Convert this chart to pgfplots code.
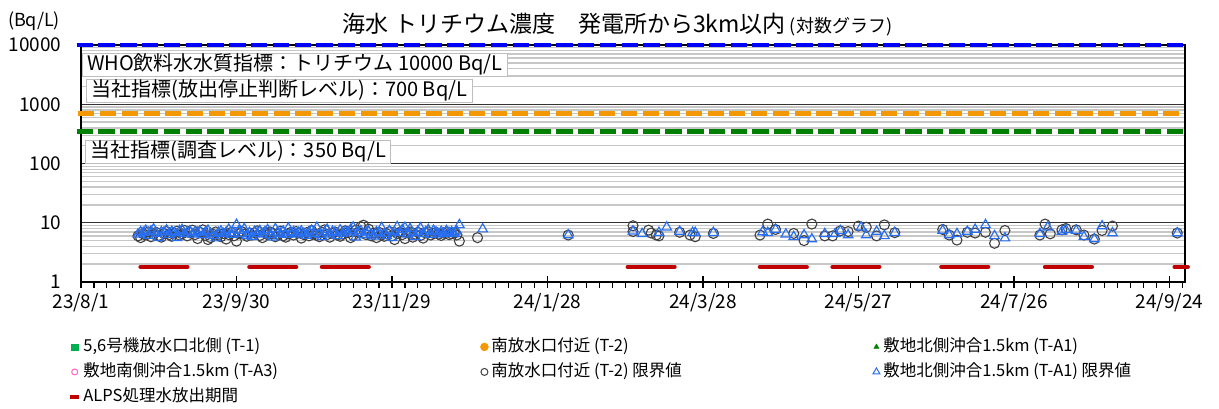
\documentclass[border=0pt]{standalone}
\usepackage{fontspec}
\setmainfont{Noto Sans CJK JP}
\usepackage{pgfplots}
\pgfplotsset{compat=1.18}
\definecolor{dblue}{RGB}{0,0,255}
\definecolor{dorange}{RGB}{243,152,0}
\definecolor{dgreen}{RGB}{0,128,0}
\definecolor{lgreen}{RGB}{0,176,80}
\definecolor{dred}{RGB}{192,0,0}
\definecolor{triblue}{RGB}{40,110,240}
\definecolor{circgray}{RGB}{64,64,64}
\definecolor{pinkc}{RGB}{255,102,204}
\definecolor{boxgray}{RGB}{190,190,190}
\pgfplotsset{
  markleg/.style={legend image code/.code={\path[draw=none,fill=none] (0bp,-4bp) rectangle (10bp,4bp); \draw[##1] plot coordinates {(5bp,0bp)};}},
  lineleg/.style={legend image code/.code={\path[draw=none,fill=none] (0bp,-4bp) rectangle (10bp,4bp); \draw[##1] (0.5bp,0bp) -- (9.5bp,0bp);}},
}
\begin{document}
\begin{tikzpicture}
\useasboundingbox (-81bp,-127bp) rectangle (1138bp,282bp);
\begin{axis}[
  at={(0,0)}, anchor=south west, scale only axis,
  width=1104bp, height=237bp,
  ymode=log, ymin=1, ymax=10000,
  xmin=0, xmax=426,
  clip=false,
  axis line style={black, line width=1.2bp},
  ytick={1,10,100,1000,10000},
  yticklabels={1,10,100,1000,10000},
  ymajorgrids, yminorgrids,
  major grid style={black!80, line width=1.1bp},
  minor grid style={black!22, line width=1.4bp},
  every y tick/.append style={draw=none},
  ytick pos=left,
  xtick={0,60,...,420},
  xticklabels={23/8/1,23/9/30,23/11/29,24/1/28,24/3/28,24/5/27,24/7/26,24/9/24},
  minor xtick={0,5,...,425},
  xtick pos=bottom,
  xtick align=outside,
  major tick length=6bp, minor tick length=6bp,
  every tick/.append style={black, line width=1.1bp},
  extra x ticks={0,60,...,420},
  extra x tick labels={},
  extra x tick style={xtick align=inside, major tick length=6bp, grid=none},
  /pgf/number format/assume math mode=true,
  ticklabel style={font=\fontsize{19bp}{22bp}\selectfont},
  yticklabel style={xshift=-16bp},
  xticklabel style={yshift=-2bp},
  title={海水 トリチウム濃度　発電所から3km以内{\fontsize{18bp}{20bp}\selectfont\ (対数グラフ)}},
  title style={font=\fontsize{23bp}{26bp}\selectfont, at={(0.486,1)}, anchor=base, yshift=7bp},
  legend columns=3,
  legend cell align=left,
  legend style={at={(-0.012,-0.233)}, anchor=north west, draw=none, fill=none,
    font=\fontsize{16.5bp}{20bp}\selectfont, inner sep=0pt, row sep=6bp,
    nodes={inner ysep=1bp, text height=13bp, text depth=4bp},
    /tikz/every even column/.append style={column sep=0bp}},
]
% legend images
\addlegendimage{markleg, only marks, mark=square*, lgreen, mark size=3.2bp}
\addlegendentry{\makebox[394bp][l]{5,6号機放水口北側 (T-1)}}
\addlegendimage{markleg, only marks, mark=*, dorange, mark size=4bp}
\addlegendentry{\makebox[378bp][l]{南放水口付近 (T-2)}}
\addlegendimage{markleg, only marks, mark=triangle*, dgreen, mark size=3bp}
\addlegendentry{敷地北側沖合1.5km (T-A1)}
\addlegendimage{markleg, only marks, mark=o, pinkc, mark size=3bp, line width=1bp}
\addlegendentry{\makebox[394bp][l]{敷地南側沖合1.5km (T-A3)}}
\addlegendimage{markleg, only marks, mark=o, circgray, mark size=3.5bp, line width=1bp}
\addlegendentry{\makebox[378bp][l]{南放水口付近 (T-2) 限界値}}
\addlegendimage{markleg, only marks, mark=triangle, triblue, mark size=4bp, line width=1bp}
\addlegendentry{敷地北側沖合1.5km (T-A1) 限界値}
\addlegendimage{lineleg, dred, line width=4.5bp}
\addlegendentry{ALPS処理水放出期間}

% label boxes
\node[anchor=west, draw=boxgray, line width=1bp, fill=white, inner xsep=5bp, inner ysep=2bp,
  text height=15bp, text depth=4bp, font=\fontsize{20bp}{24bp}\selectfont]
  at (axis cs:0.2,4600) {WHO飲料水水質指標：トリチウム 10000 Bq/L};
\node[anchor=west, draw=boxgray, line width=1bp, fill=white, inner xsep=5bp, inner ysep=2bp,
  text height=15bp, text depth=4bp, font=\fontsize{20bp}{24bp}\selectfont]
  at (axis cs:2.0,1670) {当社指標(放出停止判断レベル)：700 Bq/L};
\node[anchor=west, draw=boxgray, line width=1bp, fill=white, inner xsep=5bp, inner ysep=2bp,
  text height=15bp, text depth=4bp, font=\fontsize{20bp}{24bp}\selectfont]
  at (axis cs:1.5,156) {当社指標(調査レベル)：350 Bq/L};
\node[font=\fontsize{18bp}{22bp}\selectfont, xshift=-47bp, yshift=24bp] at (axis description cs:0,1) {(Bq/L)};

% reference lines
\addplot[forget plot, dblue, line width=4.5bp, dash pattern=on 16.5bp off 5.3bp] coordinates {(-1.7,10000) (425.5,10000)};
\addplot[forget plot, dorange, line width=4.5bp, dash pattern=on 16bp off 5.7bp] coordinates {(-1,700) (425.5,700)};
\addplot[forget plot, dgreen, line width=4.5bp, dash pattern=on 16.5bp off 5.3bp] coordinates {(-1.7,350) (425.5,350)};

% ALPS release periods
\addplot[forget plot, dred, line width=4.5bp, line cap=round] coordinates {(23,1.8) (41,1.8)};
\addplot[forget plot, dred, line width=4.5bp, line cap=round] coordinates {(65,1.8) (83,1.8)};
\addplot[forget plot, dred, line width=4.5bp, line cap=round] coordinates {(93,1.8) (111,1.8)};
\addplot[forget plot, dred, line width=4.5bp, line cap=round] coordinates {(211,1.8) (229,1.8)};
\addplot[forget plot, dred, line width=4.5bp, line cap=round] coordinates {(262,1.8) (280,1.8)};
\addplot[forget plot, dred, line width=4.5bp, line cap=round] coordinates {(290,1.8) (308,1.8)};
\addplot[forget plot, dred, line width=4.5bp, line cap=round] coordinates {(332,1.8) (350,1.8)};
\addplot[forget plot, dred, line width=4.5bp, line cap=round] coordinates {(372,1.8) (390,1.8)};
\addplot[forget plot, dred, line width=4.5bp, line cap=round] coordinates {(422,1.8) (427,1.8)};

% T-2 detection limit (open circles)
\addplot[forget plot, only marks, mark=o, mark size=5bp, circgray, line width=1.1bp] coordinates {
(22,6.0) (23,5.6) (24,6.5) (25,6.2) (26,7.0) (27,5.8) (28,6.4) (29,6.9) (30,6.1) (31,5.7)
(32,6.6) (33,7.1) (34,6.3) (35,5.9) (36,6.7) (37,7.2) (38,6.2) (39,6.5) (40,7.4) (41,6.0)
(42,6.8) (43,7.5) (44,6.3) (45,5.4) (46,6.9) (47,7.6) (48,6.1) (49,5.2) (50,5.6) (51,6.4)
(52,7.0) (53,6.2) (54,5.8) (55,6.6) (56,5.3) (57,6.3) (58,6.9) (59,6.0) (60,4.9) (61,6.5)
(62,7.1) (63,6.4) (64,5.9) (65,6.7) (66,6.2) (67,6.8) (68,7.3) (69,6.1) (70,5.6) (71,6.9)
(72,6.3) (73,7.0) (74,6.6) (75,5.8) (76,6.4) (77,7.2) (78,6.0) (79,5.7) (80,6.5) (81,6.9)
(82,6.2) (83,7.1) (84,6.7) (85,5.5) (86,6.3) (87,6.8) (88,6.0) (89,7.4) (90,6.5) (91,6.1)
(92,5.8) (93,6.9) (94,7.6) (95,6.3) (96,5.7) (97,6.6) (98,7.0) (99,6.2) (100,5.9) (101,6.4)
(102,7.3) (103,6.8) (104,5.6) (105,6.1) (106,7.5) (107,6.9) (108,8.6) (109,9.1) (110,6.3) (111,7.8)
(112,6.0) (113,6.7) (114,5.6) (115,6.9) (116,6.2) (117,5.9) (118,6.5) (119,7.1) (120,6.0) (121,5.2)
(122,6.6) (123,6.9) (124,6.3) (125,5.4) (126,6.8) (127,7.0) (128,5.7) (129,6.4) (130,6.9) (131,6.1)
(132,5.5) (133,6.7) (134,7.0) (135,6.2) (136,6.6) (137,6.9) (138,6.4) (139,6.1) (140,6.7) (141,7.0)
(142,6.3) (143,6.5) (144,6.8) (145,6.2) (146,4.9)
(153,5.6) (188,6.2) (213,8.9) (213,7.1) (219,7.5) (220,6.7) (222,6.2) (223,6.0) (231,6.9) (235,6.2)
(237,5.8) (244,6.6) (262,6.2) (265,9.5) (268,7.7) (275,6.6) (279,5.0) (282,9.5) (287,6.0) (290,6.0)
(293,7.3) (296,7.1) (300,8.8) (303,8.4) (307,6.0) (310,9.2) (314,6.8) (332.5,7.7) (335,6.2) (338,5.1)
(342,6.9) (345,6.7) (349,6.9) (352.5,4.5) (356.5,7.4) (370,6.2) (372,9.5) (374,6.5) (378.5,7.6) (380,8.0)
(384,7.6) (387,6.2) (391,5.3) (394,7.4) (398,8.8) (423,6.7)
};

% T-A1 detection limit (open triangles)
\addplot[forget plot, only marks, mark=triangle, mark size=5.5bp, triblue, line width=1.2bp] coordinates {
(22,6.4) (23,7.0) (24,6.8) (25,7.4) (26,6.1) (27,7.2) (28,7.8) (29,6.6) (30,5.6) (31,7.0)
(32,6.9) (33,7.5) (34,6.3) (35,7.1) (36,6.7) (37,5.6) (38,7.3) (39,7.6) (40,6.5) (41,6.9)
(42,7.2) (43,6.4) (44,7.0) (45,6.8) (46,7.1) (47,6.2) (48,6.9) (49,7.4) (50,6.6) (51,6.0)
(52,5.5) (53,6.8) (54,7.2) (55,6.5) (56,6.9) (57,7.7) (58,6.3) (59,6.7) (60,9.3) (61,7.4)
(62,6.5) (63,7.9) (64,6.1) (65,6.8) (66,5.8) (67,7.1) (68,6.6) (69,7.3) (70,6.4) (71,7.0)
(72,7.6) (73,6.2) (74,5.7) (75,7.9) (76,6.9) (77,6.5) (78,7.2) (79,6.3) (80,8.1) (81,6.7)
(82,7.0) (83,6.4) (84,6.8) (85,7.2) (86,6.6) (87,6.1) (88,6.9) (89,7.4) (90,6.5) (91,8.3)
(92,6.3) (93,5.8) (94,6.9) (95,7.7) (96,6.4) (97,7.1) (98,6.8) (99,6.0) (100,7.5) (101,6.6)
(102,7.2) (103,6.9) (104,7.6) (105,8.4) (106,5.7) (107,6.8) (108,7.3) (109,6.2) (110,6.9) (111,7.1)
(112,6.4) (113,5.9) (114,7.0) (115,6.7) (116,8.2) (117,6.5) (118,6.0) (119,7.3) (120,5.6) (121,7.0)
(122,8.5) (123,6.8) (124,7.6) (125,8.3) (126,6.4) (127,7.9) (128,6.7) (129,5.8) (130,7.2) (131,8.1)
(132,6.5) (133,7.0) (134,7.6) (135,6.3) (136,7.4) (137,6.9) (138,6.4) (139,7.1) (140,6.6) (141,7.3)
(142,6.8) (143,7.0) (144,6.5) (145,7.2) (146,9.2)
(155,7.8) (188,6.2) (213,7.2) (216.5,6.5) (223,6.8) (226,8.4) (231,7.1) (236,6.8) (237,6.8) (244,6.8)
(263,7.0) (265,6.8) (268,7.7) (272,6.4) (275,5.8) (279,6.2) (282,5.3) (287,6.5) (291,6.5) (293,7.3)
(296,6.2) (301,8.4) (303,6.2) (307,7.1) (310,6.0) (314,6.8) (332.5,7.4) (335,6.2) (338,6.5) (342,7.1)
(345,7.7) (349,9.2) (352.5,6.0) (356.5,5.5) (370,6.5) (373,8.4) (378.5,7.1) (380,7.6) (384,7.4) (387,5.8)
(391,5.3) (394,8.8) (398,6.7) (423,6.7)
};
\end{axis}
\end{tikzpicture}
\end{document}
